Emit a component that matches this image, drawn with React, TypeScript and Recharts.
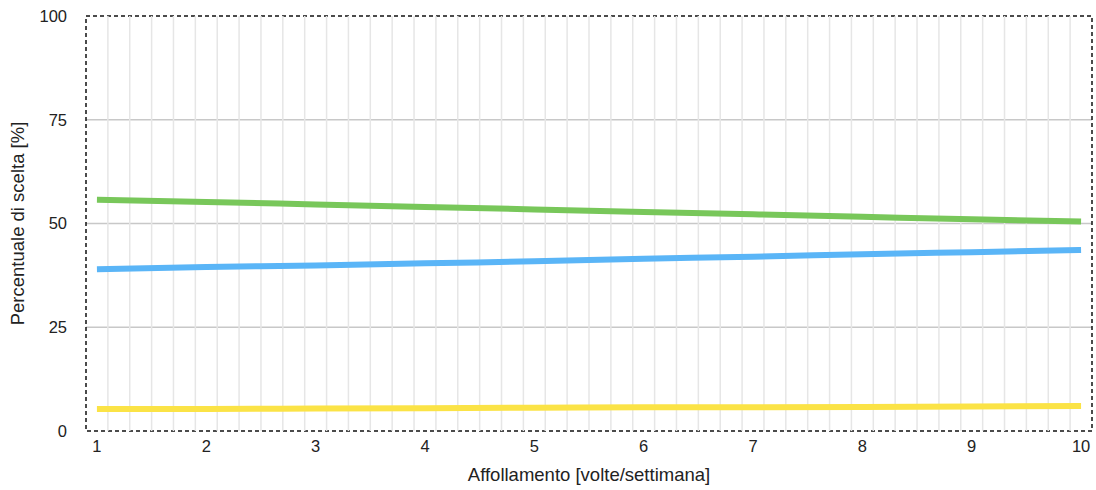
import React from "react";
import {
  LineChart,
  Line,
  XAxis,
  YAxis,
  CartesianGrid,
  ReferenceLine,
  ReferenceArea,
} from "recharts";

const affollamento = [1, 2, 3, 4, 5, 6, 7, 8, 9, 10];
const sceltaVerde = [55.7, 55.2, 54.6, 54.0, 53.4, 52.8, 52.2, 51.6, 51.0, 50.5];
const sceltaBlu = [39.0, 39.5, 39.9, 40.4, 40.9, 41.5, 42.0, 42.6, 43.1, 43.6];
const sceltaGialla = [5.3, 5.3, 5.4, 5.5, 5.6, 5.7, 5.7, 5.8, 5.9, 6.0];

const xTicks = [1, 2, 3, 4, 5, 6, 7, 8, 9, 10];
const yTicks = [0, 25, 50, 75, 100];
// minor vertical grid, every 0.2 starting at 1.1
const minorX = Array.from({ length: 45 }, (_, i) => +(1.1 + i * 0.2).toFixed(1));

const data = affollamento.map((x, i) => ({
  x,
  verde: sceltaVerde[i],
  blu: sceltaBlu[i],
  gialla: sceltaGialla[i],
}));

const FONT = "'Liberation Sans', Arial, Helvetica, sans-serif";

export default function App() {
  return (
    <div style={{ position: "absolute", left: 0, top: 0, background: "#fff" }}>
      <LineChart
        width={1096}
        height={490}
        data={data}
        margin={{ top: 16, right: 4, bottom: 29, left: 26 }}
        style={{ fontFamily: FONT }}
      >
        <CartesianGrid
          vertical={false}
          horizontalValues={[25, 50, 75]}
          stroke="#c8c8c8"
          strokeWidth={1.5}
        />
        {minorX.map((v) => (
          <ReferenceLine key={v} x={v} stroke="#e6e6e6" strokeWidth={1.5} />
        ))}
        <XAxis
          dataKey="x"
          type="number"
          domain={[0.9, 10.1]}
          ticks={xTicks}
          axisLine={false}
          tickLine={false}
          tickSize={6}
          tickMargin={3}
          height={30}
          tick={{ fontSize: 16.5, fill: "#222" }}
          label={{
            value: "Affollamento [volte/settimana]",
            position: "insideBottom",
            offset: -20,
            style: { fontSize: 18.5, fill: "#222" },
          }}
        />
        <YAxis
          type="number"
          domain={[0, 100]}
          ticks={yTicks}
          axisLine={false}
          tickLine={false}
          tickSize={6}
          tickMargin={13}
          width={60}
          tick={{ fontSize: 16.5, fill: "#222" }}
          label={{
            value: "Percentuale di scelta [%]",
            angle: -90,
            position: "insideLeft",
            offset: -9,
            style: { fontSize: 18.5, fill: "#222", textAnchor: "middle" },
          }}
        />
        <Line
          type="monotone"
          dataKey="verde"
          stroke="#78c75a"
          strokeWidth={6}
          dot={false}
          isAnimationActive={false}
        />
        <Line
          type="monotone"
          dataKey="blu"
          stroke="#5ab5f7"
          strokeWidth={6}
          dot={false}
          isAnimationActive={false}
        />
        <Line
          type="monotone"
          dataKey="gialla"
          stroke="#fbe346"
          strokeWidth={6}
          dot={false}
          isAnimationActive={false}
        />
        <ReferenceArea
          x1={0.9}
          x2={10.1}
          y1={0}
          y2={100}
          fill="none"
          fillOpacity={0}
          stroke="#111"
          strokeWidth={1.5}
          strokeDasharray="4 3"
        />
      </LineChart>
    </div>
  );
}
